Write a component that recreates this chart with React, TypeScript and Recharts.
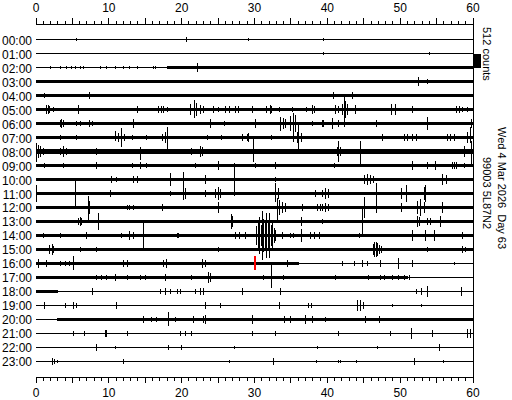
import React from 'react';
import { ComposedChart, Area, Scatter, ErrorBar, XAxis, YAxis, ReferenceLine, ReferenceArea } from 'recharts';

// ---------- data ----------
const HOURS = ['00:00','01:00','02:00','03:00','04:00','05:00','06:00','07:00','08:00','09:00','10:00','11:00',
  '12:00','13:00','14:00','15:00','16:00','17:00','18:00','19:00','20:00','21:00','22:00','23:00'];
const MINUTE_TICKS = [0,1,2,3,4,5,6,7,8,9,10,11,12,13,14,15,16,17,18,19,20,21,22,23,24,25,26,27,28,29,30,
  31,32,33,34,35,36,37,38,39,40,41,42,43,44,45,46,47,48,49,50,51,52,53,54,55,56,57,58,59,60];

// background noise envelope per hour, one digit per 3 minutes, digit unit = 18 counts half-width
const BASE_UNIT = 18;
const BASE_STEP_MIN = 3;
const BASELINE = [
  '00000000000000000000',
  '00000000000000000000',
  '00000033333333333333',
  '33333333333333333333',
  '33333333333333333333',
  '33333333333333333333',
  '33333333333333333333',
  '33333333333333333333',
  '44444444444444444444',
  '22222222222222222222',
  '33333333333333333333',
  '33333333333333333333',
  '33333333333333333333',
  '22222222222222222222',
  '33333333333333333333',
  '22222222222222222222',
  '22222222222211110000',
  '22222222222222222111',
  '21000000111111111111',
  '11111111111111100000',
  '12222222222222222222',
  '11111111111111111111',
  '00000000000000000000',
  '00000000000000000000',
];

// events per hour: [minute, counts up, counts down (optional)]
type Ev = number[];
const EV00: Ev[] = [[5.6,40],[9.5,20],[10.0,20],[12.8,25],[20.7,75],[26.5,20],[27.8,25],[29.2,60],[33.1,20],[39.5,60],[49.4,20],[50.2,20],[51.0,20],[52.6,30],[53.0,30],[54.1,30],[54.6,30],[55.3,30],[56.4,30],[56.9,30],[59.0,20]];
const EV01: Ev[] = [[1.7,35],[1.9,35],[8.1,35],[39.5,40],[47.0,25],[53.4,35],[54.0,45],[54.4,35],[57.9,25]];
const EV02: Ev[] = [[2.0,40],[3.3,40],[4.2,40],[4.9,40],[5.4,40],[6.1,40],[6.5,40],[8.8,40],[9.7,40],[10.9,40],[12.0,40],[12.9,40],[13.9,40],[16.1,40],[16.4,40],[18.0,50],[18.4,50],[18.8,50],[19.2,50],[22.2,150]];
const EV03: Ev[] = [[52.5,150],[53.7,75]];
const EV04: Ev[] = [[1.2,75],[7.4,110],[40.9,110],[43.4,110]];
const EV05: Ev[] = [[1.5,150],[1.7,150],[1.9,110],[2.4,75],[5.8,150],[13.9,110],[16.8,110],[17.2,110],[17.5,110],[18.0,75],[21.2,185],[21.7,330,295],[22.1,220],[22.6,150],[23.0,110],[24.4,110],[25.1,75],[26.0,110],[26.5,110],[27.4,110],[27.8,110],[29.7,110],[31.7,110],[32.2,150],[32.4,110],[33.4,75],[35.2,75],[37.2,75],[37.9,150],[38.3,110],[41.1,150],[41.6,110],[42.1,185],[42.4,465,415],[42.5,300],[42.8,185],[43.9,150],[46.9,40],[48.8,185],[49.4,185],[51.7,110],[52.8,40],[53.8,40],[57.7,110],[58.2,110],[58.6,75],[59.2,75]];
const EV06: Ev[] = [[2.0,40],[3.3,110],[3.5,150],[3.8,110],[5.6,75],[6.1,75],[7.4,110],[7.7,75],[8.8,40],[9.5,40],[10.4,40],[13.4,150],[14.3,40],[15.0,40],[18.5,40],[19.2,40],[24.0,150],[25.9,75],[30.1,150],[32.4,40],[32.9,40],[33.6,220,260],[34.0,185],[34.3,150],[35.0,260],[35.3,370],[35.6,300],[37.9,75],[39.3,110],[39.5,110],[40.7,185],[41.6,110],[42.3,110],[46.7,110],[53.8,220],[59.8,150]];
const EV07: Ev[] = [[3.3,75],[5.6,75],[10.9,220,110],[11.3,150],[11.8,330,330],[12.2,110],[13.2,75],[15.2,75],[17.3,110],[17.8,185],[18.0,370,480],[23.6,75],[25.5,75],[28.3,110],[29.0,110],[29.2,150],[32.4,75],[35.4,150],[35.9,185],[36.1,440,440],[36.4,150],[47.6,110],[50.6,110],[51.0,110],[51.7,110],[52.2,110],[56.5,110],[56.9,110],[57.4,110],[59.3,185],[59.7,370,185]];
const EV08: Ev[] = [[0.1,295,370],[0.3,220],[0.6,185],[1.0,110],[3.3,110],[3.8,200],[4.2,110],[8.3,110],[11.6,75],[14.3,150,295],[18.4,75],[21.4,110],[22.6,185],[22.8,150],[29.9,440,370],[38.4,75],[41.4,150],[41.6,370,370],[41.8,150],[44.6,370,480],[58.8,185],[59.8,370,440]];
const EV09: Ev[] = [[1.2,75],[3.8,75],[8.3,110],[13.2,75],[14.3,110],[15.2,75],[21.9,75],[25.1,150],[30.1,75],[32.9,110],[41.0,75],[51.7,150],[53.8,110],[54.9,150],[57.2,110],[57.5,110],[57.7,110],[58.8,75]];
const EV10: Ev[] = [[10.4,110],[11.1,75],[13.4,110],[13.9,110],[18.4,220],[20.3,260],[23.3,150],[27.2,620,600],[32.9,75],[45.1,150],[45.5,185],[45.9,150],[46.4,110],[55.8,185],[56.3,150]];
const EV11: Ev[] = [[0.1,295],[5.4,440,480],[10.2,110],[18.4,75],[20.2,220],[20.5,185],[23.3,110],[24.6,150],[25.0,220],[25.3,150],[32.9,370,295],[33.3,185],[38.4,110],[39.3,110],[39.8,185],[40.2,150],[46.7,370],[50.2,185],[50.9,295],[53.3,220],[53.5,295]];
const EV12: Ev[] = [[7.2,410,520],[7.4,220],[12.5,75],[12.9,75],[13.4,75],[17.3,110],[25.1,185],[33.1,330,440],[33.5,260],[33.8,185],[34.3,150],[36.6,110],[38.6,110],[39.1,110],[39.3,110],[39.8,150],[40.2,110],[45.1,370],[46.7,185],[50.2,150],[52.4,220],[52.8,295],[53.3,185],[55.8,185]];
const EV13: Ev[] = [[5.8,110],[6.1,150],[6.3,110],[8.6,295],[26.8,260],[27.0,185],[36.5,150],[39.4,75],[44.8,480],[52.4,185],[52.6,150],[53.8,110],[54.2,110],[55.6,185]];
const EV14: Ev[] = [[1.0,75],[3.3,75],[7.0,110],[11.8,75],[12.9,150],[13.4,110],[14.8,480],[19.4,75],[19.6,75],[27.4,110],[28.0,110],[28.7,110],
  [30.3,330],[30.5,515],[30.7,660],[30.9,400],[31.1,880],[31.3,590],[31.5,480],[31.7,810],[31.9,440],[32.1,810],[32.3,370],[32.5,440],[32.7,260],[32.9,185],
  [33.8,110],[34.9,75],[35.4,75],[36.4,220],[37.7,110],[38.2,110],[38.9,110],[44.4,75],[51.7,185],[53.5,185],[54.7,185],[58.5,110]];
const EV15: Ev[] = [[1.9,150],[2.2,185],[2.4,110],[6.1,75],[8.3,75],[11.6,40],[25.1,75],[29.9,40],[46.3,185],[46.5,260],[46.7,260],[46.9,220],[47.1,150],[47.4,110],[53.8,75],[58.6,110],[59.0,75]];
const EV16: Ev[] = [[0.3,150],[1.5,110],[3.3,75],[4.1,75],[4.6,75],[5.1,260,220],[12.0,110],[12.5,110],[17.5,110],[17.9,150],[22.8,150],[23.3,110],[34.5,110],[42.1,75],[43.7,75],[44.8,110],[45.5,75],[47.3,110],[49.8,185],[51.7,110],[57.4,40]];
const EV17: Ev[] = [[8.3,75],[9.0,75],[9.7,75],[10.9,110],[12.5,75],[14.3,75],[15.0,75],[17.8,110],[21.4,75],[23.7,185],[23.9,150],[31.3,75],[32.4,465,390],[34.0,75],[41.1,75],[45.7,75],[47.3,75],[47.8,75],[48.9,75],[49.8,75],[50.6,75],[51.3,75]];
const EV18: Ev[] = [[7.7,110],[17.1,75],[17.8,110],[18.4,75],[19.4,75],[19.8,75],[21.9,75],[22.6,110],[23.0,110],[28.3,110],[33.6,110],[52.2,75],[52.9,110],[53.8,185],[58.4,150]];
const EV19: Ev[] = [[1.2,110],[4.0,75],[5.1,110],[5.6,75],[11.1,110],[23.3,110],[25.3,75],[33.4,110],[37.4,75],[37.8,75],[44.1,185],[44.6,185],[45.0,110],[48.9,40],[52.9,40]];
const EV20: Ev[] = [[4.4,40],[14.8,110],[15.9,75],[16.6,75],[18.2,260,220],[19.1,75],[21.6,110],[23.0,110],[23.3,150],[29.7,150],[34.1,110],[34.9,110],[37.0,150],[37.9,110],[39.8,75],[45.3,110],[47.1,110],[53.6,40]];
const EV21: Ev[] = [[5.1,75],[6.7,75],[9.5,110],[9.7,110],[12.5,75],[19.8,75],[20.5,75],[21.4,75],[29.7,75],[32.9,75],[41.6,75],[48.7,75],[51.5,185],[54.5,110],[59.3,150],[59.7,150]];
const EV22: Ev[] = [[8.3,110],[10.9,40],[18.2,75],[20.0,75],[27.2,40],[38.6,40],[46.9,40],[55.4,110],[56.5,30],[57.4,30],[58.3,30],[59.2,30]];
const EV23: Ev[] = [[2.2,110],[2.5,75],[3.0,40],[12.0,75],[26.5,40],[32.6,110],[38.5,40],[41.6,40],[41.8,40],[44.0,40],[51.9,110],[56.0,40]];
const EVENTS = [EV00,EV01,EV02,EV03,EV04,EV05,EV06,EV07,EV08,EV09,EV10,EV11,EV12,EV13,EV14,EV15,EV16,EV17,EV18,EV19,EV20,EV21,EV22,EV23];

const MARKER = { hour: 16, minute: 30, counts: 256 };
const SCALE_COUNTS = 512;
const STATION = '99003 5L87N2';
const DATE_TEXT = 'Wed 4 Mar 2026  Day 63';

// ---------- layout constants ----------
const ROW_STEP = 512;
const EDGE = 567;
const N = HOURS.length;
const Y_MAX = EDGE * 2 + ROW_STEP * (N - 1);
const rowCenter = (i: number) => EDGE + (N - 1 - i) * ROW_STEP;
const ROW_TICKS = HOURS.map((_, i) => rowCenter(i));

// build baseline area data
const baseData: any[] = [];
for (let k = 0; k <= BASELINE[0].length; k++) {
  const d: any = { t: k * BASE_STEP_MIN };
  BASELINE.forEach((s, i) => {
    const ch = s[Math.min(k, s.length - 1)];
    const h = parseInt(ch, 36) * BASE_UNIT;
    const c = rowCenter(i);
    d['r' + i] = [c - h, c + h];
  });
  baseData.push(d);
}

const eventData: any[] = [];
EVENTS.forEach((list, i) => {
  list.forEach((e) => {
    const up = e[1];
    const down = e.length > 2 ? e[2] : e[1];
    eventData.push({ t: e[0], y: rowCenter(i), e: [down, up] });
  });
});
const markerData = [{ t: MARKER.minute, y: rowCenter(MARKER.hour), e: [MARKER.counts, MARKER.counts] }];

const FONT = '"Liberation Sans", Arial, sans-serif';

const TopTick = (props: any) => {
  const { x, y, payload } = props;
  const v = payload.value;
  const len = v % 5 === 0 ? 6 : 3;
  return (
    <g>
      <line x1={x} y1={y} x2={x} y2={y - len} stroke="#000" />
      {v % 10 === 0 && (
        <text x={x} y={y - 12} textAnchor="middle" fontSize={12} fontFamily={FONT} fill="#000">{v}</text>
      )}
    </g>
  );
};
const BottomTick = (props: any) => {
  const { x, y, payload } = props;
  const v = payload.value;
  const len = v % 5 === 0 ? 6 : 4;
  return (
    <g>
      <line x1={x} y1={y} x2={x} y2={y + len} stroke="#000" />
      {v % 10 === 0 && (
        <text x={x} y={y + 20} textAnchor="middle" fontSize={12} fontFamily={FONT} fill="#000">{v}</text>
      )}
    </g>
  );
};
const RowTick = (props: any) => {
  const { y, payload } = props;
  const i = Math.round((rowCenter(0) - payload.value) / ROW_STEP);
  return (
    <text x={32} y={y + 5} textAnchor="end" fontSize={12} fontFamily={FONT} fill="#000">{HOURS[i]}</text>
  );
};

const Empty = () => <g />;

export default function App() {
  return (
    <div style={{ position: 'absolute', left: 0, top: 0, width: 512, height: 400, background: '#fff', shapeRendering: 'crispEdges' as any }}>
      <ComposedChart width={512} height={400} data={baseData} margin={{ top: 0, right: 39, bottom: 0, left: 0 }}>
        <XAxis xAxisId="top" orientation="top" type="number" dataKey="t" domain={[0, 60]} ticks={MINUTE_TICKS} interval={0}
          height={24} tickSize={0} tickMargin={0} tickLine={false} axisLine={{ stroke: '#000' }} tick={<TopTick />} allowDataOverflow />
        <XAxis xAxisId="bottom" orientation="bottom" type="number" dataKey="t" domain={[0, 60]} ticks={MINUTE_TICKS} interval={0}
          height={23} tickSize={0} tickMargin={0} tickLine={false} axisLine={{ stroke: '#000' }} tick={<BottomTick />} allowDataOverflow />
        <YAxis type="number" domain={[0, Y_MAX]} ticks={ROW_TICKS} interval={0} width={36} tickLine={false} axisLine={false}
          tickSize={0} tickMargin={0} tick={<RowTick />} allowDataOverflow />
        {BASELINE.map((_, i) => (
          <Area key={i} xAxisId="bottom" type="stepAfter" dataKey={'r' + i} stroke="#000" strokeWidth={1} fill="#000" fillOpacity={1}
            isAnimationActive={false} dot={false} activeDot={false} />
        ))}
        <Scatter xAxisId="bottom" data={eventData} dataKey="y" shape={<Empty />} isAnimationActive={false}>
          <ErrorBar dataKey="e" direction="y" width={0} stroke="#000" strokeWidth={1} />
        </Scatter>
        <Scatter xAxisId="top" data={markerData} dataKey="y" shape={<Empty />} isAnimationActive={false}>
          <ErrorBar dataKey="e" direction="y" width={0} stroke="#f00" strokeWidth={2} />
        </Scatter>
        <ReferenceLine xAxisId="bottom" x={60} stroke="#000" strokeWidth={1} />
        <ReferenceArea xAxisId="bottom" x1={60.05} x2={61.1} y1={rowCenter(2)} y2={rowCenter(1)} fill="#000" fillOpacity={1}
          stroke="none" ifOverflow="visible" />
      </ComposedChart>
      <svg width={512} height={400} style={{ position: 'absolute', left: 0, top: 0, pointerEvents: 'none' }}>
        <text transform="translate(483,27) rotate(90)" fontSize={11} fontFamily={FONT} fill="#000">{SCALE_COUNTS} counts</text>
        <text transform="translate(498,127) rotate(90)" fontSize={11} fontFamily={FONT} fill="#000" style={{ whiteSpace: 'pre' }}>{DATE_TEXT}</text>
        <text transform="translate(483,157) rotate(90)" fontSize={11} fontFamily={FONT} fill="#000">{STATION}</text>
      </svg>
    </div>
  );
}
